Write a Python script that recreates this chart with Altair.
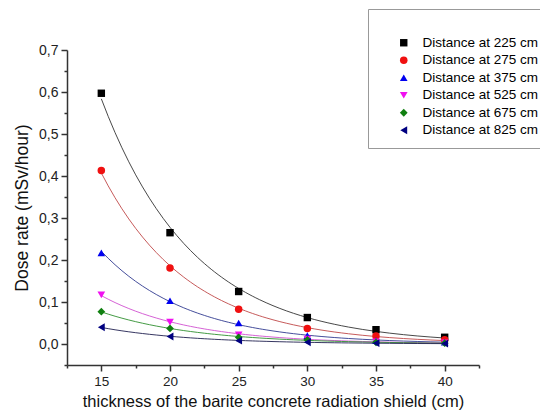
import altair as alt
import pandas as pd

thickness = [15, 20, 25, 30, 35, 40]
series_names = ["Distance at 225 cm", "Distance at 275 cm", "Distance at 375 cm",
                "Distance at 525 cm", "Distance at 675 cm", "Distance at 825 cm"]
d225 = [0.597, 0.265, 0.125, 0.063, 0.034, 0.016]
d275 = [0.413, 0.181, 0.083, 0.037, 0.019, 0.010]
d375 = [0.217, 0.103, 0.050, 0.020, 0.008, 0.004]
d525 = [0.117, 0.052, 0.022, 0.012, 0.005, 0.003]
d675 = [0.077, 0.037, 0.016, 0.010, 0.004, 0.002]
d825 = [0.040, 0.018, 0.008, 0.004, 0.002, 0.001]
all_series = [d225, d275, d375, d525, d675, d825]

marker_colors = ["#000000", "#f01010", "#0000f0", "#f010f0", "#108010", "#000080"]
line_colors = ["#333333", "#c04848", "#303a90", "#d050d0", "#309030", "#202050"]
shapes = ["square", "circle", "triangle-up", "triangle-down", "diamond", "triangle-left"]
marker_sizes = [55, 62, 80, 80, 62, 75]

x_ticks = [12.5, 15, 17.5, 20, 22.5, 25, 27.5, 30, 32.5, 35, 37.5, 40, 42.5]
y_ticks = [-0.05, 0.0, 0.05, 0.1, 0.15, 0.2, 0.25, 0.3, 0.35, 0.4, 0.45, 0.5,
           0.55, 0.6, 0.65, 0.7]

rows = []
for name, vals, lc in zip(series_names, all_series, line_colors):
    for t, v in zip(thickness, vals):
        rows.append({"t": t, "v": v, "series": name, "lc": lc})
df = pd.DataFrame(rows)

x_axis = alt.Axis(
    values=x_ticks,
    labelExpr="datum.value % 5 === 0 ? format(datum.value, 'd') : ''",
    tickSize={"condition": {"test": "datum.value % 5 === 0", "value": 6}, "value": 3},
    title="thickness of the barite concrete radiation shield (cm)",
    labelFontSize=13.5, titleFontSize=16.5, titlePadding=6, labelPadding=3,
    grid=False,
)
y_axis = alt.Axis(
    values=y_ticks,
    labelExpr="abs(datum.value*10 - round(datum.value*10)) < 0.001 ? replace(format(datum.value, '.1f'), '.', ',') : ''",
    tickSize={"condition": {"test": "abs(datum.value*10 - round(datum.value*10)) < 0.001", "value": 6}, "value": 3},
    title="Dose rate (mSv/hour)",
    labelFontSize=14, titleFontSize=17.5, titlePadding=7, labelPadding=3,
    grid=False,
)

x_enc = alt.X("t:Q", scale=alt.Scale(domain=[12.5, 42.5], nice=False, zero=False), axis=x_axis)
y_enc = alt.Y("v:Q", scale=alt.Scale(domain=[-0.05, 0.7], nice=False, zero=False), axis=y_axis)

lines = alt.Chart(df).transform_regression(
    "t", "v", groupby=["series", "lc"], method="exp", extent=[15, 40]
).mark_line(strokeWidth=0.9).encode(
    x=x_enc, y=y_enc, detail="series:N", color=alt.Color("lc:N", scale=None)
)

points = alt.Chart(df).mark_point(filled=True, opacity=1).encode(
    x=x_enc, y=y_enc,
    color=alt.Color("series:N", scale=alt.Scale(domain=series_names, range=marker_colors),
                    legend=alt.Legend(orient="none", legendX=301, legendY=-41, title=" ",
                                      titleFontSize=9, titlePadding=7, padding=11,
                                      strokeColor="#999999", labelFontSize=13.5,
                                      labelColor="#000000", symbolSize=42,
                                      symbolOffset=18, labelOffset=12, rowPadding=2.5)),
    shape=alt.Shape("series:N", scale=alt.Scale(domain=series_names, range=shapes)),
    size=alt.Size("series:N", scale=alt.Scale(domain=series_names, range=marker_sizes),
                  legend=None),
)

chart = alt.layer(lines, points).properties(
    width=412, height=315,
    padding={"left": 59, "top": 42, "right": 61, "bottom": 46},
    autosize="none",
).configure(font="Liberation Sans").configure_view(stroke=None).configure_axis(
    domainColor="#333333", domainWidth=1.5, tickColor="#333333", tickWidth=1.5,
    labelColor="#222222", titleColor="#111111", titleFontWeight="normal",
)

chart.save("out.html", embed_options={"renderer": "svg", "actions": False})
